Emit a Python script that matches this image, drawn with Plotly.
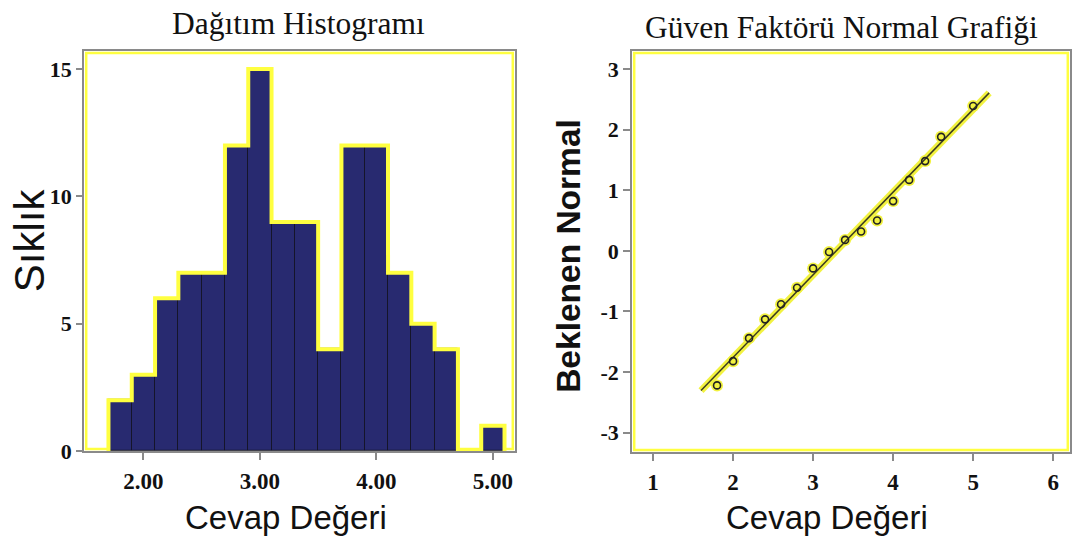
import plotly.graph_objects as go

# ---------------- data ----------------
bin_centers = [1.8, 2.0, 2.2, 2.4, 2.6, 2.8, 3.0, 3.2, 3.4, 3.6, 3.8, 4.0, 4.2, 4.4, 4.6, 4.8, 5.0]
counts = [2, 3, 6, 7, 7, 12, 15, 9, 9, 4, 12, 12, 7, 5, 4, 0, 1]
bin_width = 0.2

qq_x = [1.8, 2.0, 2.2, 2.4, 2.6, 2.8, 3.0, 3.2, 3.4, 3.6, 3.8, 4.0, 4.2, 4.4, 4.6, 5.0]
qq_y = [-2.22, -1.82, -1.44, -1.13, -0.88, -0.61, -0.29, -0.02, 0.18, 0.32, 0.50, 0.82, 1.17, 1.48, 1.88, 2.39]
ref_mean = 3.29
ref_sd = 0.733
ref_x = [1.6, 5.2]

hist_xticks = [2.0, 3.0, 4.0, 5.0]
hist_xticklabels = ["2.00", "3.00", "4.00", "5.00"]
hist_yticks = [0, 5, 10, 15]
hist_yticklabels = ["0", "5", "10", "15"]
qq_xticks = [1, 2, 3, 4, 5, 6]
qq_xticklabels = ["1", "2", "3", "4", "5", "6"]
qq_yticks = [-3, -2, -1, 0, 1, 2, 3]
qq_yticklabels = ["-3", "-2", "-1", "0", "1", "2", "3"]

# ---------------- geometry helpers ----------------
W, H = 1077, 552
def px(x):
    return x / W
def py(y):
    return 1 - y / H

SERIF = "Liberation Serif, Times New Roman, serif"
SANS = "Liberation Sans, Arial, sans-serif"
YELLOW = "#ffff40"
NAVY = "#282a70"
GRAY = "#8a8a8a"

fig = go.Figure()

# histogram yellow envelope (derived from bins)
env_x = [bin_centers[0] - bin_width / 2] + [c - bin_width / 2 for c in bin_centers] + [bin_centers[-1] + bin_width / 2]
env_y = [0] + counts + [0]
fig.add_trace(go.Scatter(x=env_x, y=env_y, mode="lines", line=dict(color=YELLOW, width=4, shape="hv"),
                         xaxis="x", yaxis="y", hoverinfo="skip", showlegend=False))
fig.add_trace(go.Bar(x=bin_centers, y=counts, width=bin_width,
                     marker=dict(color=NAVY, line=dict(color="#15152a", width=1)),
                     xaxis="x", yaxis="y", showlegend=False))

# Q-Q reference line
ref_y = [(v - ref_mean) / ref_sd for v in ref_x]
fig.add_trace(go.Scatter(x=ref_x, y=ref_y, mode="lines", line=dict(color="#f2f240", width=7),
                         xaxis="x2", yaxis="y2", hoverinfo="skip", showlegend=False))
fig.add_trace(go.Scatter(x=qq_x, y=qq_y, mode="markers",
                         marker=dict(color="#f2f240", size=12, line=dict(width=0)),
                         xaxis="x2", yaxis="y2", hoverinfo="skip", showlegend=False))
fig.add_trace(go.Scatter(x=ref_x, y=ref_y, mode="lines", line=dict(color="#3a3a22", width=1.5),
                         xaxis="x2", yaxis="y2", hoverinfo="skip", showlegend=False))
fig.add_trace(go.Scatter(x=qq_x, y=qq_y, mode="markers",
                         marker=dict(symbol="circle-open", color="#222222", size=7, line=dict(width=1.6)),
                         xaxis="x2", yaxis="y2", showlegend=False))

def axis_style(size, ticklen, standoff):
    return dict(showgrid=False, zeroline=False, showline=True, mirror=True, linecolor=GRAY, linewidth=1.5,
                ticks="outside", ticklen=ticklen, tickcolor=GRAY, tickwidth=1.5, ticklabelstandoff=standoff,
                tickfont=dict(family=SERIF, size=size, color="#111111", weight="bold"))

fig.update_layout(
    width=W, height=H,
    margin=dict(l=0, r=0, t=0, b=0),
    paper_bgcolor="white", plot_bgcolor="white",
    bargap=0,
    xaxis=dict(domain=[px(84), px(515)], range=[1.49, 5.19], tickvals=hist_xticks, ticktext=hist_xticklabels,
               anchor="y", **axis_style(23, 7, 2)),
    yaxis=dict(domain=[py(462), py(52)], range=[0, 15.72], tickvals=hist_yticks, ticktext=hist_yticklabels,
               anchor="x", **axis_style(22, 6, 0)),
    xaxis2=dict(domain=[px(632), px(1070)], range=[0.7375, 6.21], tickvals=qq_xticks, ticktext=qq_xticklabels,
                anchor="y2", **axis_style(23, 7, 2)),
    yaxis2=dict(domain=[py(463), py(52)], range=[-3.32, 3.30], tickvals=qq_yticks, ticktext=qq_yticklabels,
                anchor="x2", **axis_style(22, 7, 0)),
)

# yellow inner frames
for xr, yr, ix, iy in [("x domain", "y domain", 2.2 / 431, 2.2 / 410), ("x2 domain", "y2 domain", 2.2 / 438, 2.2 / 411)]:
    fig.add_shape(type="rect", xref=xr, yref=yr, x0=ix, x1=1 - ix, y0=iy, y1=1 - iy,
                  line=dict(color=YELLOW, width=2.5), layer="below")

annots = [
    dict(text="Dağıtım Histogramı", x=px(298), y=py(24), font=dict(family=SERIF, size=31.5, color="#111")),
    dict(text="Güven Faktörü Normal Grafiği", x=px(841), y=py(28), font=dict(family=SERIF, size=31.5, color="#111")),
    dict(text="Cevap Değeri", x=px(286), y=py(530), font=dict(family=SANS, size=33, color="#111")),
    dict(text="Cevap Değeri", x=px(827), y=py(530), font=dict(family=SANS, size=33, color="#111")),
    dict(text="Sıklık", x=px(29), y=py(246), textangle=-90, font=dict(family=SANS, size=42, color="#111")),
    dict(text="<b>Beklenen Normal</b>", x=px(569), y=py(262), textangle=-90, font=dict(family=SANS, size=33.5, color="#111")),
]
for a in annots:
    fig.add_annotation(xref="paper", yref="paper", xanchor="center", yanchor="middle", showarrow=False, **a)

fig.write_html("out.html", config={"displayModeBar": False},
               post_script="document.body.style.margin='0px';document.body.style.overflow='hidden';")
